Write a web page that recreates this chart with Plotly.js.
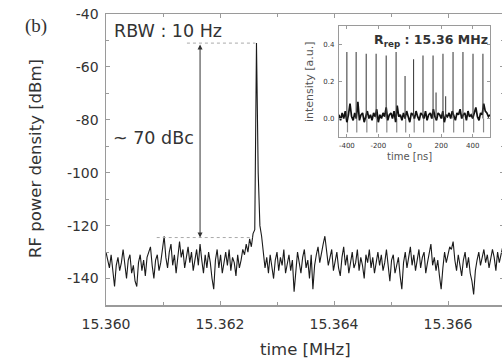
<!DOCTYPE html>
<html><head><meta charset="utf-8">
<script src="https://cdn.plot.ly/plotly-3.0.1.min.js"></script>
<style>html,body{margin:0;padding:0;overflow:hidden;background:#fff}#plot{width:504px;height:358px}</style>
</head><body><div id="plot"></div>
<script>
// ---- main spectrum data ----
const freqStart = 15.360;   // MHz
const freqStep = 0.00003;   // MHz per sample
const powerDbm = [
-130,-133,-136,-131,-138,-143,-135,-132,-137,-134,
-129,-136,-140,-133,-131,-138,-135,-141,-143,-134,
-131,-137,-133,-139,-132,-130,-128,-135,-140,-133,
-131,-137,-134,-129,
-124,-132,-136,-130,-127,-135,-131,-138,-133,-126,
-132,-129,-136,-131,-128,-134,-130,-137,-132,-129,
-135,-127,-133,-138,-131,-136,-130,-134,-140,-144,
-133,-129,-136,-131,-138,-133,-130,-135,-129,-137,
-132,-134,-139,-131,-136,-133,-129,-131,-127,-130,
-125,-128,-123,
-121.5,-51,-100,-120,-124,
-129,-136,-132,-138,-131,-135,-140,-133,-130,-137,
-132,-135,-129,-138,-134,-131,-137,-133,-145,-136,
-130,-134,-138,-132,-129,-136,-133,-140,-131,-144,
-135,-131,-128,-134,-130,-127,-124,-130,-135,-132,
-129,-137,-133,-130,-136,-139,-132,-128,-135,-131,
-138,-133,-130,-136,-134,-129,-137,-132,-135,-140,
-131,-134,-129,-136,-132,-138,-133,-130,-135,-131,
-137,-134,-129,-136,-141,-133,-131,-138,-135,-132,
-139,-144,-134,-130,-136,-132,-128,-135,-131,-137,
-133,-129,-136,-132,-130,-138,-134,-131,-127,-135,
-132,-137,-133,-139,-144,-136,-130,-134,-131,-128,
-129,-126,-133,-137,-131,-135,-139,-133,-130,-136,
-132,-138,-141,-146,-137,-133,-130,-135,-132,-129,
-134,-131,-136,-133,-129,-132,-137,-130,-134,-131,
-128,-133
];
const xTickVals = [15.360, 15.362, 15.364, 15.366];
const xTickText = ['15.360', '15.362', '15.364', '15.366'];
const yTickVals = [-140, -120, -100, -80, -60, -40];
const yTickText = ['-140', '-120', '-100', '-80', '-60', '-40'];
const peakLevel = -51;
const floorLevel = -124.5;
const arrowFreq = 15.36165;
const topDotFreqs = [15.36142, 15.36262];
const bottomDotFreqs = [15.36089, 15.36258];

// ---- inset pulse-train data ----
const pulseTimes = [-400, -341, -277, -214, -150, -87, -30, 24, 84, 148, 211, 275, 338, 402, 465];
const pulseHeights = [0.36, 0.36, 0.35, 0.35, 0.34, 0.36, 0.23, 0.32, 0.34, 0.34, 0.35, 0.36, 0.36, 0.35, 0.35];
const sideTimes = [167, 228];
const sideHeights = [0.14, 0.12];
const undershootDepth = -0.075;
const baseStart = -450, baseStep = 10;
const baseNoise = [
0.02,-0.01,0.03,0.00,0.04,-0.02,0.02,0.08,0.01,-0.01,
0.03,0.00,0.09,-0.01,0.02,0.03,-0.02,0.01,0.04,0.00,
0.02,-0.01,0.03,0.01,0.05,-0.02,0.02,0.00,0.03,0.01,
0.06,-0.01,0.02,0.03,0.00,0.04,-0.02,0.07,0.01,0.02,
-0.01,0.03,0.00,0.04,0.01,-0.02,0.03,0.02,0.00,0.04,
0.01,-0.01,0.03,0.02,0.00,0.04,-0.01,0.02,0.03,0.00,
0.05,0.01,-0.01,0.03,0.02,0.00,0.04,-0.02,0.02,0.01,
0.03,0.00,0.04,0.01,-0.01,0.03,0.02,0.05,0.00,0.02,
0.03,-0.01,0.04,0.01,0.02,0.00,0.03,0.06,0.01,-0.01,
0.03,0.02,0.08,0.04,0.03,0.01,0.02
];
const insetXTickVals = [-400, -200, 0, 200, 400];
const insetXTickText = ['-400', '-200', '0', '200', '400'];
const insetYTickVals = [0, 0.2, 0.4];
const insetYTickText = ['0.0', '0.2', '0.4'];

// ---- build traces ----
const freqs = powerDbm.map((_, i) => freqStart + i * freqStep);
const baseTimes = baseNoise.map((_, i) => baseStart + i * baseStep);

const pX = [], pY = [];
pulseTimes.forEach((t, i) => { pX.push(t, t, null); pY.push(0.0, pulseHeights[i], null); });
sideTimes.forEach((t, i) => { pX.push(t, t, null); pY.push(0.0, sideHeights[i], null); });
const uX = [], uY = [];
pulseTimes.forEach((t) => { uX.push(t + 4, t + 4, null); uY.push(0.0, undershootDepth, null); });

const L = 106, R = 504, T = 14, B = 305;
function px(x) { return (x - L) / (R - L); }
function py(y) { return (B - y) / (B - T); }

const font = 'DejaVu Sans';
const txt = '#333';
const axc = '#9a9a9a';

const data = [
  {x: freqs, y: powerDbm, type: 'scatter', mode: 'lines', line: {color: '#1a1a1a', width: 1.1}, xaxis: 'x', yaxis: 'y'},
  {x: uX, y: uY, type: 'scatter', mode: 'lines', line: {color: '#888', width: 1.2}, xaxis: 'x2', yaxis: 'y2'},
  {x: baseTimes, y: baseNoise, type: 'scatter', mode: 'lines', line: {color: '#111', width: 1.7}, xaxis: 'x2', yaxis: 'y2'},
  {x: pX, y: pY, type: 'scatter', mode: 'lines', line: {color: '#444', width: 1.1}, xaxis: 'x2', yaxis: 'y2'}
];

const layout = {
  width: 504, height: 358,
  margin: {l: L, r: 504 - R, t: T, b: 358 - B},
  paper_bgcolor: '#fff', plot_bgcolor: '#fff',
  showlegend: false,
  font: {family: font, color: txt},
  xaxis: {
    domain: [0, 1], anchor: 'y',
    range: [15.360, 15.360 + (R - L) / 57000],
    tickvals: xTickVals, ticktext: xTickText,
    ticks: 'inside', ticklen: 4, tickcolor: axc, tickwidth: 1,
    minor: {ticks: 'inside', ticklen: 3, tick0: 15.360, dtick: 0.001, tickcolor: axc},
    showline: true, linecolor: axc, linewidth: 1.5, mirror: 'allticks',
    showgrid: false, zeroline: false,
    tickfont: {family: font, size: 14, color: txt},
    ticklabelstandoff: 6
  },
  yaxis: {
    domain: [0, 1], anchor: 'x',
    range: [-150, -40],
    tickvals: yTickVals, ticktext: yTickText,
    ticks: 'inside', ticklen: 4, tickcolor: axc, tickwidth: 1,
    minor: {ticks: 'inside', ticklen: 3, tick0: -150, dtick: 10, tickcolor: axc},
    showline: true, linecolor: axc, linewidth: 1.5, mirror: 'allticks',
    showgrid: false, zeroline: false,
    tickfont: {family: font, size: 14, color: txt},
    ticklabelstandoff: 3
  },
  xaxis2: {
    domain: [px(339), px(490)], anchor: 'y2',
    range: [-450, 510],
    tickvals: insetXTickVals, ticktext: insetXTickText,
    ticks: 'inside', ticklen: 3, tickcolor: axc,
    showline: true, linecolor: axc, linewidth: 1.2, mirror: 'allticks',
    showgrid: false, zeroline: false,
    tickfont: {family: font, size: 7, color: txt},
    ticklabelstandoff: 1
  },
  yaxis2: {
    domain: [py(137), py(26)], anchor: 'x2',
    range: [-0.1, 0.5],
    tickvals: insetYTickVals, ticktext: insetYTickText,
    ticks: 'inside', ticklen: 3, tickcolor: axc,
    showline: true, linecolor: axc, linewidth: 1.2, mirror: 'allticks',
    showgrid: false, zeroline: false,
    tickfont: {family: font, size: 7, color: txt},
    ticklabelstandoff: 2
  },
  shapes: [
    {type: 'line', xref: 'x', yref: 'y', x0: topDotFreqs[0], x1: topDotFreqs[1], y0: peakLevel, y1: peakLevel,
     line: {color: '#aaa', width: 1, dash: 'dot'}},
    {type: 'line', xref: 'x', yref: 'y', x0: bottomDotFreqs[0], x1: bottomDotFreqs[1], y0: floorLevel, y1: floorLevel,
     line: {color: '#aaa', width: 1, dash: 'dot'}}
  ],
  annotations: [
    {x: arrowFreq, y: floorLevel, xref: 'x', yref: 'y', ax: arrowFreq, ay: peakLevel, axref: 'x', ayref: 'y',
     text: '', showarrow: true, arrowside: 'end+start', arrowhead: 2, startarrowhead: 2,
     arrowsize: 1, startarrowsize: 1, arrowwidth: 1, arrowcolor: '#333'},
    {x: px(112), y: py(31), xref: 'paper', yref: 'paper', xanchor: 'left', yanchor: 'middle', showarrow: false,
     text: 'RBW : 10 Hz', font: {family: font, size: 17.5, color: txt}},
    {x: px(111), y: py(138), xref: 'paper', yref: 'paper', xanchor: 'left', yanchor: 'middle', showarrow: false,
     text: '~ 70 dBc', font: {family: font, size: 17.5, color: txt}},
    {x: px(36), y: py(26), xref: 'paper', yref: 'paper', xanchor: 'center', yanchor: 'middle', showarrow: false,
     text: '(b)', font: {family: 'Liberation Serif', size: 19, color: txt}},
    {x: px(35), y: py(159), xref: 'paper', yref: 'paper', xanchor: 'center', yanchor: 'middle', showarrow: false,
     textangle: -90, text: 'RF power density [dBm]', font: {family: font, size: 16.5, color: txt}},
    {x: px(305), y: py(349), xref: 'paper', yref: 'paper', xanchor: 'center', yanchor: 'middle', showarrow: false,
     text: 'time [MHz]', font: {family: font, size: 16.5, color: txt}},
    {x: px(490), y: py(40), xref: 'paper', yref: 'paper', xanchor: 'right', yanchor: 'middle', showarrow: false,
     text: '<b>R<sub>rep</sub> : 15.36 MHz</b>', font: {family: font, size: 12.5, color: txt}},
    {x: px(310), y: py(82), xref: 'paper', yref: 'paper', xanchor: 'center', yanchor: 'middle', showarrow: false,
     textangle: -90, text: 'intensity [a.u.]', font: {family: font, size: 11, color: '#555'}},
    {x: px(409), y: py(156), xref: 'paper', yref: 'paper', xanchor: 'center', yanchor: 'middle', showarrow: false,
     text: 'time [ns]', font: {family: font, size: 10, color: '#555'}}
  ]
};

Plotly.newPlot('plot', data, layout, {staticPlot: true, displayModeBar: false});
</script>
</body></html>
